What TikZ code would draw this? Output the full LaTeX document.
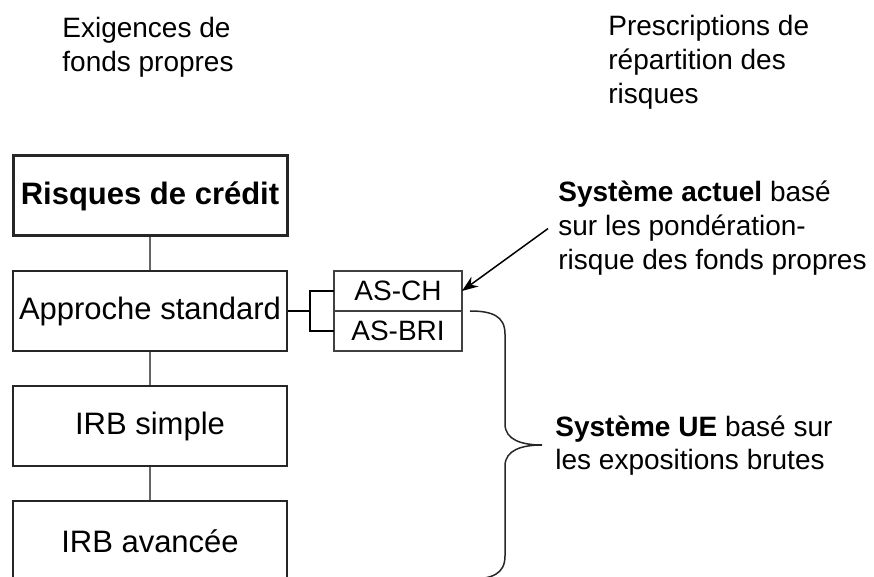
\documentclass[tikz,border=0pt]{standalone}
\usepackage{fontspec}
\setmainfont{Liberation Sans}
\usepackage{tikz}
\usetikzlibrary{arrows.meta,positioning}

\begin{document}
\begin{tikzpicture}[x=0.5pt,y=-0.5pt,>={Stealth[length=8pt,width=6pt]},
  node distance=57.5pt,
  level box/.style={rectangle,draw=black!85,line width=0.75pt,minimum width=137pt,
    minimum height=40pt,inner sep=0pt,font=\fontsize{15.5}{18}\selectfont},
  sub box/.style={rectangle,draw=black!75,line width=0.75pt,minimum width=64pt,
    minimum height=20pt,inner sep=0pt,outer sep=0pt,font=\fontsize{14}{17}\selectfont},
  note/.style={align=left,inner sep=0pt,font=\fontsize{14}{17}\selectfont},
  link/.style={draw=black!60,line width=1pt}]

  \useasboundingbox (0,0) rectangle (874,577);
  \clip (0,0) rectangle (874,577);

  % column headings (base = last line)
  \node[note,anchor=base west] (fp) at (62,72) {Exigences de\\fonds propres};
  \node[note,anchor=base west] (rr) at (608,104) {Prescriptions de\\répartition des\\risques};

  % approaches
  \node[level box,line width=1.5pt,font=\fontsize{15.5}{18}\selectfont\bfseries] (credit) at (150,196) {Risques de crédit};
  \node[level box] (std) [below of=credit] {Approche standard};
  \node[level box] (irbs) [below of=std] {IRB simple};
  \node[level box] (irba) [below of=irbs] {IRB avancée};

  \node[sub box,anchor=north west] (asch) at (334,271) {AS-CH};
  \node[sub box] (asbri) [below=0pt of asch] {AS-BRI};

  \node[note,anchor=base west] (actuel) at (558,270) {\textbf{Système actuel} basé\\sur les pondération-\\risque des fonds propres};
  \node[note,anchor=base west] (ue) at (555,470) {\textbf{Système UE} basé sur\\les expositions brutes};

  \path[link] (credit) edge (std)
    (std) edge (irbs)
    (irbs) edge (irba);

  \draw[line width=0.75pt] (std.east) -- +(23,0);
  \draw[line width=0.75pt] (asch.west) -- +(-24,0) |- (asbri.west);

  \draw[->,line width=0.75pt] ([xshift=-5pt]actuel.west) -- (asch.east);

  % brace
  \draw[line width=0.75pt,black!85] (470,311) .. controls (492,311) and (505,316) .. (505,334)
    -- (505,424) .. controls (505,440) and (522,445) .. (542,445)
    .. controls (522,445) and (505,450) .. (505,466)
    -- (505,556) .. controls (505,574) and (492,579) .. (470,579);

\end{tikzpicture}
\end{document}
